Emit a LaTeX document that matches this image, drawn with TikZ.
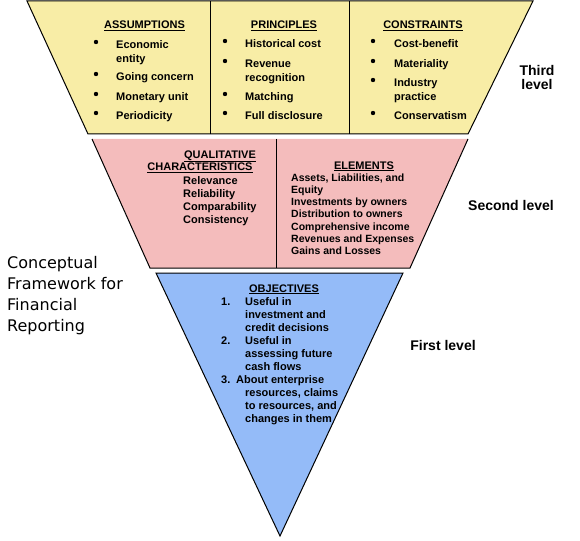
\documentclass[tikz,border=0pt]{standalone}
\usepackage{fontspec}
\setmainfont{Liberation Sans}
\newfontfamily\comicfont{DejaVu Sans}
\newcommand\mylines[1]{\begin{tabular}[t]{@{}l@{}}#1\end{tabular}}
\definecolor{lyellow}{RGB}{248,237,166}
\definecolor{lpink}{RGB}{244,188,188}
\definecolor{lblue}{RGB}{148,187,248}
\begin{document}
\begin{tikzpicture}[x=1pt,y=-1pt,
  outline/.style={draw=black,line width=1pt,line join=miter},
  head/.style={font=\fontsize{11}{13}\selectfont\bfseries,inner sep=0,anchor=base},
  item/.style={font=\fontsize{11}{14}\selectfont\bfseries,inner sep=0,anchor=base west},
  pitem/.style={font=\fontsize{11}{13}\selectfont\bfseries,inner sep=0,anchor=base west},
  eitem/.style={font=\fontsize{10.5}{12.33}\selectfont\bfseries,inner sep=0,anchor=base west},
  bul/.style={circle,fill=black,inner sep=0,minimum size=4.4pt},
  lvl/.style={font=\fontsize{14}{14}\selectfont\bfseries,inner sep=0,anchor=base},
]
\useasboundingbox (0,0) rectangle (580,540);
% third level
\fill[lyellow] (27,1) -- (533,1) -- (468,134) -- (88,134) -- cycle;
\draw[outline] (27,1) -- (533,1) -- (468,134) -- (88,134) -- cycle;
\draw[outline] (210,1) -- (210,134);
\draw[outline] (349,1) -- (349,134);
% second level
\fill[lpink] (92,139) -- (468,139) -- (410,268) -- (150,268) -- cycle;
\draw[outline] (92,139) -- (150,268) -- (410,268) -- (468,139);
\draw[outline] (276,139) -- (276,268);
% first level
\fill[lblue] (156,273) -- (403,273) -- (280,536) -- cycle;
\draw[outline] (156,273) -- (403,273) -- (280,536) -- cycle;

% assumptions
\node[head] (hA) at (144.5,29) {\underline{ASSUMPTIONS}};
\node[bul] (bA1) at (96,42) {};
\node[item] (tA1) at (116,49) {\mylines{Economic\\entity}};
\node[bul] (bA2) at (96,74) {};
\node[item] (tA2) at (116,81) {Going concern};
\node[bul] (bA3) at (96,94) {};
\node[item] (tA3) at (116,101) {Monetary unit};
\node[bul] (bA4) at (96,113) {};
\node[item] (tA4) at (116,120) {Periodicity};
% principles
\node[head] (hP) at (284,29) {\underline{PRINCIPLES}};
\node[bul] (bP1) at (225,41) {};
\node[item] (tP1) at (245,48) {Historical cost};
\node[bul] (bP2) at (225,61) {};
\node[item] (tP2) at (245,68) {\mylines{Revenue\\recognition}};
\node[bul] (bP3) at (225,94) {};
\node[item] (tP3) at (245,101) {Matching};
\node[bul] (bP4) at (225,113) {};
\node[item] (tP4) at (245,120) {Full disclosure};
% constraints
\node[head] (hC) at (423,29) {\underline{CONSTRAINTS}};
\node[bul] (bC1) at (373,41) {};
\node[item] (tC1) at (394,48) {Cost-benefit};
\node[bul] (bC2) at (373,61) {};
\node[item] (tC2) at (394,68) {Materiality};
\node[bul] (bC3) at (373,80) {};
\node[item] (tC3) at (394,87) {\mylines{Industry\\practice}};
\node[bul] (bC4) at (373,113) {};
\node[item] (tC4) at (394,120) {Conservatism};
\node[lvl] (l3) at (537,76) {Third};
\node[lvl] (l3b) at (537,90) {level};

% qualitative characteristics
\node[head] (hQ1) at (220,158) {\underline{QUALITATIVE}};
\node[head] (hQ2) at (200,171) {\underline{CHARACTERISTICS}};
\node[pitem] (tQ) at (183,184) {\mylines{Relevance\\Reliability\\Comparability\\Consistency}};
% elements
\node[head] (hE) at (364,169) {\underline{ELEMENTS}};
\node[eitem] (tE) at (291,181) {\mylines{Assets, Liabilities, and\\Equity\\Investments by owners\\Distribution to owners\\Comprehensive income\\Revenues and Expenses\\Gains and Losses}};
\node[lvl] (l2) at (511,210) {Second level};

% objectives
\node[head] (hO) at (284,292) {\underline{OBJECTIVES}};
\node[pitem] (n1) at (221,305) {1.};
\node[pitem] (o1) at (245,305) {\mylines{Useful in\\investment and\\credit decisions}};
\node[pitem] (n2) at (221,344) {2.};
\node[pitem] (o2) at (245,344) {\mylines{Useful in\\assessing future\\cash flows}};
\node[pitem] (n3) at (221,383) {3.};
\node[pitem] (o3) at (236,383) {\mylines{About enterprise\\\hspace*{9pt}resources, claims\\\hspace*{9pt}to resources, and\\\hspace*{9pt}changes in them}};
\node[lvl] (l1) at (443,350) {First level};

% title
\node[font=\comicfont\fontsize{16}{21.3}\selectfont,inner sep=0,anchor=base west] (title) at (7,268) {\mylines{Conceptual\\Framework for\\Financial\\Reporting}};
\end{tikzpicture}
\end{document}
